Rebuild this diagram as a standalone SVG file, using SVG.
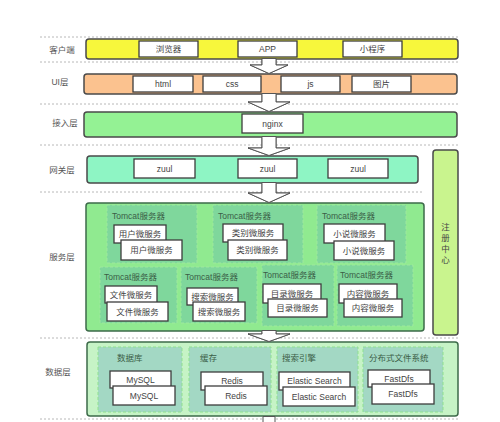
<svg xmlns="http://www.w3.org/2000/svg" width="500" height="422" viewBox="0 0 500 422">
<style>
text{font-family:"Liberation Sans","Noto Sans CJK SC",sans-serif;font-size:8.5px;fill:#444;text-anchor:middle;dominant-baseline:central}
.lbl{font-size:8.5px;fill:#555}
.dash{stroke:#b8b8b8;stroke-width:1;stroke-dasharray:2,2;fill:none}
.bar{stroke:#4a4a4a;stroke-width:1.5}
.box{fill:#fff;stroke:#3d3d3d;stroke-width:1.3}
.tc{fill:#7fd79c;stroke:#9ee89e;stroke-width:1;stroke-dasharray:3,2}
.dc{fill:#a3d8c4;stroke:#8fe08f;stroke-width:1;stroke-dasharray:3,2}
.tt{fill:#3b5e47;text-anchor:start}
.arrow{fill:#fff;stroke:#555;stroke-width:1}
</style>
<rect width="500" height="422" fill="#fff"/>
<g id="separators">
<line class="dash" x1="40" y1="37" x2="460" y2="37"/>
<line class="dash" x1="40" y1="62" x2="460" y2="62"/>
<line class="dash" x1="40" y1="104" x2="460" y2="104"/>
<line class="dash" x1="40" y1="145" x2="460" y2="145"/>
<line class="dash" x1="40" y1="192" x2="424" y2="192"/>
<line class="dash" x1="40" y1="338" x2="460" y2="338"/>
<line class="dash" x1="40" y1="419" x2="460" y2="419"/>
</g>
<g id="layer-labels">
<text class="lbl" x="62" y="50">客户端</text>
<text class="lbl" x="60" y="82">UI层</text>
<text class="lbl" x="65" y="123">接入层</text>
<text class="lbl" x="62" y="170">网关层</text>
<text class="lbl" x="62" y="257">服务层</text>
<text class="lbl" x="58" y="372">数据层</text>
</g>
<g id="client">
<rect class="bar" x="86" y="39" width="372" height="20" rx="3" fill="#f7f73c"/>
<rect class="box" x="139" y="41" width="59" height="16"/><text x="168.5" y="49">浏览器</text>
<rect class="box" x="238" y="41" width="59" height="16"/><text x="267.5" y="49">APP</text>
<rect class="box" x="343" y="41" width="59" height="16"/><text x="372.5" y="49">小程序</text>
</g>
<g id="ui">
<rect class="bar" x="84" y="74" width="373" height="20" rx="3" fill="#fbc28f"/>
<rect class="box" x="133" y="76" width="60" height="16"/><text x="163" y="84">html</text>
<rect class="box" x="203" y="76" width="58" height="16"/><text x="232" y="84">css</text>
<rect class="box" x="281" y="76" width="59" height="16"/><text x="310.5" y="84">js</text>
<rect class="box" x="352" y="76" width="59" height="16"/><text x="381.5" y="84">图片</text>
</g>
<g id="access">
<rect class="bar" x="84" y="112" width="373" height="25" rx="3" fill="#94f294"/>
<rect class="box" x="242" y="114" width="61" height="19"/><text x="272.5" y="123.5">nginx</text>
</g>
<g id="gateway">
<rect class="bar" x="87" y="156" width="331" height="27" rx="3" fill="#8ef5c4" stroke="#3d6b4a"/>
<rect class="box" x="134" y="159" width="61" height="19"/><text x="164.5" y="168.5">zuul</text>
<rect class="box" x="238" y="159" width="59" height="19"/><text x="267.5" y="168.5">zuul</text>
<rect class="box" x="328" y="159" width="60" height="19"/><text x="358" y="168.5">zuul</text>
</g>
<g id="registry">
<rect x="433" y="150" width="25" height="185" rx="3" fill="#c9f48e" stroke="#4a4a4a" stroke-width="1.5"/>
<text x="445.5" y="227">注</text><text x="445.5" y="238">册</text><text x="445.5" y="249">中</text><text x="445.5" y="260">心</text>
</g>
<g id="service">
<rect x="86" y="203" width="338" height="128" rx="3" fill="#90ea90" stroke="#3d6b4a" stroke-width="1.5"/>
<g id="tomcat-user">
<rect class="tc" x="107" y="205" width="90" height="58"/><text class="tt" x="112" y="216">Tomcat服务器</text>
<rect class="box" x="114" y="225" width="52" height="18"/><text x="140" y="234">用户微服务</text>
<rect class="box" x="121" y="240" width="61" height="20"/><text x="151.5" y="250">用户微服务</text>
</g>
<g id="tomcat-category">
<rect class="tc" x="213" y="205" width="90" height="58"/><text class="tt" x="218" y="216">Tomcat服务器</text>
<rect class="box" x="223" y="224" width="60" height="18"/><text x="253" y="233">类别微服务</text>
<rect class="box" x="228" y="240" width="59" height="20"/><text x="257.5" y="250">类别微服务</text>
</g>
<g id="tomcat-novel">
<rect class="tc" x="317" y="205" width="89" height="58"/><text class="tt" x="322" y="216">Tomcat服务器</text>
<rect class="box" x="324" y="224" width="61" height="19"/><text x="354.5" y="233.5">小说微服务</text>
<rect class="box" x="334" y="241" width="60" height="19"/><text x="364" y="250.5">小说微服务</text>
</g>
<g id="tomcat-file">
<rect class="tc" x="100" y="267" width="77" height="56"/><text class="tt" x="104" y="277">Tomcat服务器</text>
<rect class="box" x="105" y="286" width="52" height="17"/><text x="131" y="294.5">文件微服务</text>
<rect class="box" x="107" y="302" width="61" height="19"/><text x="137.5" y="311.5">文件微服务</text>
</g>
<g id="tomcat-search">
<rect class="tc" x="181" y="267" width="76" height="56"/><text class="tt" x="185" y="277">Tomcat服务器</text>
<rect class="box" x="187" y="288" width="51" height="17"/><text x="212.5" y="296.5">搜索微服务</text>
<rect class="box" x="193" y="302" width="52" height="19"/><text x="219" y="311.5">搜索微服务</text>
</g>
<g id="tomcat-catalog">
<rect class="tc" x="262" y="265" width="72" height="61"/><text class="tt" x="263" y="275">Tomcat服务器</text>
<rect class="box" x="263" y="284" width="58" height="19"/><text x="292" y="293.5">目录微服务</text>
<rect class="box" x="268" y="299" width="59" height="18"/><text x="297.5" y="308">目录微服务</text>
</g>
<g id="tomcat-content">
<rect class="tc" x="337" y="265" width="76" height="61"/><text class="tt" x="340" y="275">Tomcat服务器</text>
<rect class="box" x="339" y="284" width="58" height="19"/><text x="368" y="293.5">内容微服务</text>
<rect class="box" x="344" y="299" width="58" height="18"/><text x="373" y="308">内容微服务</text>
</g>
</g>
<g id="data">
<rect x="87" y="342" width="371" height="74" rx="3" fill="#c6f3c6" stroke="#3d6b4a" stroke-width="1.5"/>
<g id="db">
<rect class="dc" x="98" y="347" width="84" height="65"/><text class="tt" x="117" y="358">数据库</text>
<rect class="box" x="110" y="371" width="61" height="17"/><text x="140.5" y="379.5">MySQL</text>
<rect class="box" x="113" y="386" width="62" height="19"/><text x="144" y="395.5">MySQL</text>
</g>
<g id="cache">
<rect class="dc" x="189" y="347" width="82" height="65"/><text class="tt" x="200" y="358">缓存</text>
<rect class="box" x="201" y="372" width="62" height="18"/><text x="232" y="381">Redis</text>
<rect class="box" x="205" y="386" width="62" height="19"/><text x="236" y="395.5">Redis</text>
</g>
<g id="search-engine">
<rect class="dc" x="277" y="347" width="81" height="65"/><text class="tt" x="282" y="358">搜索引擎</text>
<rect class="box" x="279" y="372" width="71" height="18"/><text x="314.5" y="381">Elastic Search</text>
<rect class="box" x="283" y="387" width="72" height="19"/><text x="319" y="396.5">Elastic Search</text>
</g>
<g id="dfs">
<rect class="dc" x="363" y="347" width="80" height="65"/><text class="tt" x="369" y="358">分布式文件系统</text>
<rect class="box" x="368" y="370" width="62" height="17"/><text x="399" y="378.5">FastDfs</text>
<rect class="box" x="372" y="384" width="62" height="20"/><text x="403" y="394">FastDfs</text>
</g>
</g>
<g id="connectors">
<polygon class="arrow" points="262,58.5 262,65 250,65 269,73.5 288,65 276,65 276,58.5" stroke="none"/>
<polyline class="arrow" points="262,59 262,65 250,65 269,73.5 288,65 276,65 276,59"/>
<polygon class="arrow" points="262,93.5 262,102 248,102 269,111.5 290,102 276,102 276,93.5" stroke="none"/>
<polyline class="arrow" points="262,94.5 262,102 248,102 269,111.5 290,102 276,102 276,94.5"/>
<polygon class="arrow" points="262,136.5 262,148 248,148 269,155.5 290,148 276,148 276,136.5" stroke="none"/>
<polyline class="arrow" points="262,137.5 262,148 248,148 269,155.5 290,148 276,148 276,137.5"/>
<polygon class="arrow" points="262,182.5 262,193 248,193 269,202.5 290,193 276,193 276,182.5" stroke="none"/>
<polyline class="arrow" points="262,183.5 262,193 248,193 269,202.5 290,193 276,193 276,183.5"/>
<polygon class="arrow" points="262,330.5 262,334 248,334 269,341.5 290,334 276,334 276,330.5" stroke="none"/>
<polyline class="arrow" points="262,331.5 262,334 248,334 269,341.5 290,334 276,334 276,331.5"/>
<polyline class="arrow" points="263,422 263,416.5 275,416.5 275,422"/>
</g>
</svg>
